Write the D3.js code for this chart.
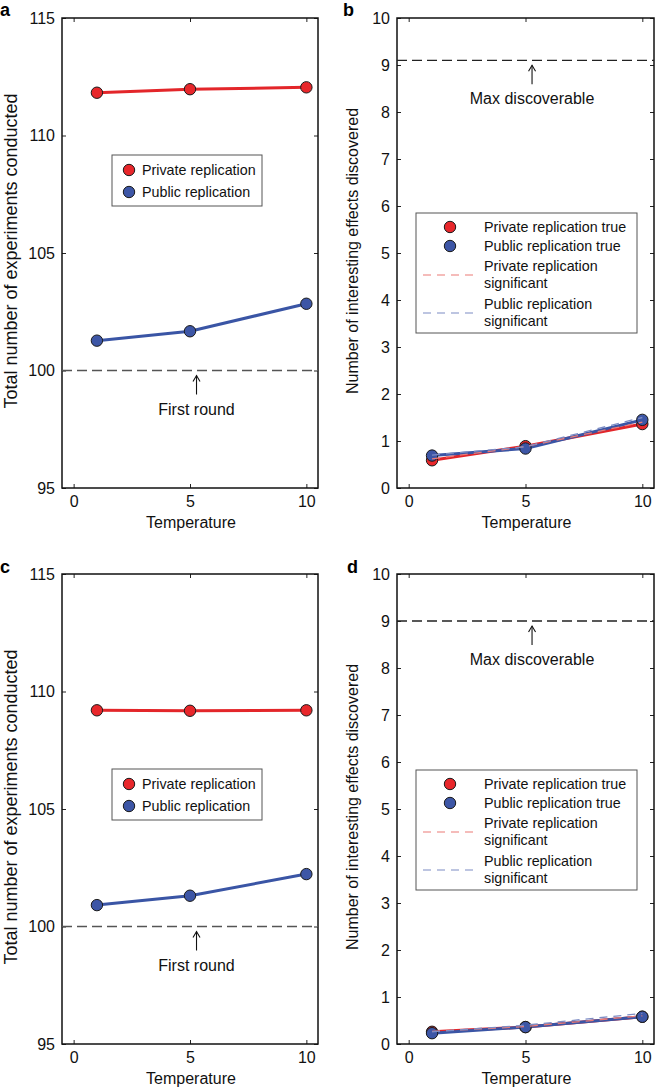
<!DOCTYPE html>
<html>
<head>
<meta charset="utf-8">
<script src="https://cdn.jsdelivr.net/npm/d3@7"></script>
<style>
  html, body { margin: 0; padding: 0; background: #fff; }
  svg { display: block; font-family: "Liberation Sans", Arial, Helvetica, sans-serif; }
</style>
</head>
<body>
<svg id="chart" width="656" height="1089"></svg>
<script>
// ---------------- data ----------------
const temperatures = [1, 5, 10];
const tempTicks = [0, 5, 10];
const countTicks = [95, 100, 105, 110, 115];
const effectTicks = [0, 1, 2, 3, 4, 5, 6, 7, 8, 9, 10];

// panel a
const aPrivate = [111.82, 111.97, 112.05];
const aPublic = [101.27, 101.67, 102.84];
// panel c
const cPrivate = [109.20, 109.18, 109.20];
const cPublic = [100.91, 101.31, 102.23];
// panel b
const bPrivateTrue = [0.59, 0.89, 1.36];
const bPublicTrue = [0.69, 0.84, 1.45];
const bPrivateSig = [0.62, 0.88, 1.40];
const bPublicSig = [0.70, 0.88, 1.50];
// panel d
const dPrivateTrue = [0.26, 0.36, 0.58];
const dPublicTrue = [0.23, 0.36, 0.58];
const dPrivateSig = [0.27, 0.37, 0.60];
const dPublicSig = [0.26, 0.40, 0.65];

const firstRound = 100;
const maxDiscoverableB = 9.1;
const maxDiscoverableD = 9.0;

const countLegend = ["Private replication", "Public replication"];
const effectLegend = ["Private replication true", "Public replication true",
  ["Private replication", "significant"], ["Public replication", "significant"]];

// ---------------- style ----------------
const RED = "#e3262a", RED_FILL = "#e8272b";
const BLUE = "#3a55a5", BLUE_FILL = "#3d56a6";
const RED_LIGHT = "#ec7a76", BLUE_LIGHT = "#7d8cc4";

const svg = d3.select("#chart");

function panel(opt) {
  const {left, right, top, bottom, yDomain, yTicks, letter, letterX, letterY, yLabel, yLabelX, yLabelSize} = opt;
  const g = svg.append("g");
  const x = d3.scaleLinear().domain([-0.5, 10.5]).range([left, right]);
  const y = d3.scaleLinear().domain(yDomain).range([bottom, top]);

  const axB = d3.axisBottom(x).tickValues(tempTicks).tickSizeInner(-4).tickSizeOuter(0).tickPadding(8);
  const axT = d3.axisTop(x).tickValues(tempTicks).tickSizeInner(-4).tickSizeOuter(0).tickFormat("");
  const axL = d3.axisLeft(y).tickValues(yTicks).tickSizeInner(-4).tickSizeOuter(0).tickPadding(7);
  const axR = d3.axisRight(y).tickValues(yTicks).tickSizeInner(-4).tickSizeOuter(0).tickFormat("");

  const gb = g.append("g").attr("transform", `translate(0,${bottom})`).call(axB);
  const gt = g.append("g").attr("transform", `translate(0,${top})`).call(axT);
  const gl = g.append("g").attr("transform", `translate(${left},0)`).call(axL);
  const gr = g.append("g").attr("transform", `translate(${right},0)`).call(axR);
  [gb, gt, gl, gr].forEach(a => {
    a.select(".domain").remove();
    a.selectAll("line").attr("stroke", "#222").attr("stroke-width", 1);
    a.selectAll("text").attr("font-size", 16).attr("fill", "#111")
      .attr("font-family", '"Liberation Sans", Arial, sans-serif');
  });
  g.append("rect").attr("x", left).attr("y", top).attr("width", right - left).attr("height", bottom - top)
    .attr("fill", "none").attr("stroke", "#111").attr("stroke-width", 1.5);

  g.append("text").attr("x", (x(0) + x(10)) / 2 + 1).attr("y", bottom + 40)
    .attr("text-anchor", "middle").attr("font-size", 16).attr("fill", "#111").text("Temperature");
  g.append("text").attr("transform", `translate(${yLabelX},${(top + bottom) / 2 - 2}) rotate(-90)`)
    .attr("text-anchor", "middle").attr("font-size", yLabelSize).attr("fill", "#111").text(yLabel);
  g.append("text").attr("x", letterX).attr("y", letterY).attr("font-size", 18).attr("font-weight", "bold")
    .attr("fill", "#000").text(letter);

  return {g, x, y, left, right, top, bottom};
}

function refLine(p, value, label, color) {
  const yv = p.y(value);
  p.g.append("line").attr("x1", p.left).attr("x2", p.right).attr("y1", yv).attr("y2", yv)
    .attr("stroke", color).attr("stroke-width", 1.3).attr("stroke-dasharray", "10,5");
  const ax = p.x(5.28);
  p.g.append("line").attr("x1", ax).attr("x2", ax).attr("y1", yv + 24).attr("y2", yv + 5)
    .attr("stroke", "#111").attr("stroke-width", 1.1);
  p.g.append("path").attr("d", `M${ax - 3.5},${yv + 11} L${ax},${yv + 5} L${ax + 3.5},${yv + 11}`)
    .attr("fill", "none").attr("stroke", "#111").attr("stroke-width", 1.1);
  p.g.append("text").attr("x", ax).attr("y", yv + 44).attr("text-anchor", "middle")
    .attr("font-size", 16).attr("fill", "#111").text(label);
}

function series(p, vals, color, fill) {
  const line = d3.line().x((d, i) => p.x(temperatures[i])).y(d => p.y(d));
  p.g.append("path").datum(vals).attr("d", line).attr("fill", "none")
    .attr("stroke", color).attr("stroke-width", 3).attr("stroke-linejoin", "round");
  p.g.selectAll(null).data(vals).enter().append("circle")
    .attr("cx", (d, i) => p.x(temperatures[i])).attr("cy", d => p.y(d)).attr("r", 5.7)
    .attr("fill", fill).attr("stroke", "#1a1a1a").attr("stroke-width", 1);
}

function sigSeries(p, vals, color) {
  const line = d3.line().x((d, i) => p.x(temperatures[i])).y(d => p.y(d));
  p.g.append("path").datum(vals).attr("d", line).attr("fill", "none")
    .attr("stroke", color).attr("stroke-width", 1.3).attr("stroke-dasharray", "8,6");
}

function countLegendBox(p, bx, by) {
  const g = p.g.append("g");
  g.append("rect").attr("x", bx).attr("y", by).attr("width", 150).attr("height", 51)
    .attr("fill", "#fff").attr("stroke", "#555").attr("stroke-width", 1);
  const fills = [RED_FILL, BLUE_FILL];
  countLegend.forEach((t, i) => {
    const cy = by + 15 + i * 22;
    g.append("circle").attr("cx", bx + 17).attr("cy", cy).attr("r", 5.7)
      .attr("fill", fills[i]).attr("stroke", "#1a1a1a").attr("stroke-width", 1);
    g.append("text").attr("x", bx + 30).attr("y", cy + 5).attr("font-size", 14.3).attr("fill", "#111").text(t);
  });
}

function effectLegendBox(p, bx, by) {
  const g = p.g.append("g");
  g.append("rect").attr("x", bx).attr("y", by).attr("width", 221).attr("height", 120)
    .attr("fill", "#fff").attr("stroke", "#555").attr("stroke-width", 1);
  const tx = bx + 68;
  const fills = [RED_FILL, BLUE_FILL];
  [0, 1].forEach(i => {
    const cy = by + 14 + i * 19;
    g.append("circle").attr("cx", bx + 34).attr("cy", cy).attr("r", 5.7)
      .attr("fill", fills[i]).attr("stroke", "#1a1a1a").attr("stroke-width", 1);
    g.append("text").attr("x", tx).attr("y", cy + 5).attr("font-size", 14.3).attr("fill", "#111").text(effectLegend[i]);
  });
  const dashCols = [RED_LIGHT, BLUE_LIGHT];
  [2, 3].forEach((k, j) => {
    const y1 = by + 53 + j * 38;
    g.append("text").attr("x", tx).attr("y", y1 + 5).attr("font-size", 14.3).attr("fill", "#111").text(effectLegend[k][0]);
    g.append("text").attr("x", tx).attr("y", y1 + 22).attr("font-size", 14.3).attr("fill", "#111").text(effectLegend[k][1]);
    g.append("line").attr("x1", bx + 7).attr("x2", bx + 61).attr("y1", y1 + 9).attr("y2", y1 + 9)
      .attr("stroke", dashCols[j]).attr("stroke-width", 1.2).attr("stroke-dasharray", "8,6");
  });
}

// ---------------- panels ----------------
const pa = panel({left: 62, right: 318, top: 18, bottom: 488, yDomain: [95, 115], yTicks: countTicks,
  letter: "a", letterX: 0, letterY: 16, yLabel: "Total number of experiments conducted", yLabelX: 17, yLabelSize: 18});
refLine(pa, firstRound, "First round", "#555");
series(pa, aPrivate, RED, RED_FILL);
series(pa, aPublic, BLUE, BLUE_FILL);
countLegendBox(pa, 112, 155);

const pb = panel({left: 397, right: 654, top: 18, bottom: 488, yDomain: [0, 10], yTicks: effectTicks,
  letter: "b", letterX: 343, letterY: 16, yLabel: "Number of interesting effects discovered", yLabelX: 358, yLabelSize: 16});
refLine(pb, maxDiscoverableB, "Max discoverable", "#222");
series(pb, bPrivateTrue, RED, RED_FILL);
series(pb, bPublicTrue, BLUE, BLUE_FILL);
sigSeries(pb, bPrivateSig, RED_LIGHT);
sigSeries(pb, bPublicSig, BLUE_LIGHT);
effectLegendBox(pb, 416, 213);

const pc = panel({left: 62, right: 318, top: 574, bottom: 1044, yDomain: [95, 115], yTicks: countTicks,
  letter: "c", letterX: 0, letterY: 573, yLabel: "Total number of experiments conducted", yLabelX: 17, yLabelSize: 18});
refLine(pc, firstRound, "First round", "#555");
series(pc, cPrivate, RED, RED_FILL);
series(pc, cPublic, BLUE, BLUE_FILL);
countLegendBox(pc, 112, 769);

const pd = panel({left: 397, right: 654, top: 574, bottom: 1044, yDomain: [0, 10], yTicks: effectTicks,
  letter: "d", letterX: 347, letterY: 573, yLabel: "Number of interesting effects discovered", yLabelX: 358, yLabelSize: 16});
refLine(pd, maxDiscoverableD, "Max discoverable", "#222");
series(pd, dPrivateTrue, RED, RED_FILL);
series(pd, dPublicTrue, BLUE, BLUE_FILL);
sigSeries(pd, dPrivateSig, RED_LIGHT);
sigSeries(pd, dPublicSig, BLUE_LIGHT);
effectLegendBox(pd, 416, 770);
</script>
</body>
</html>
